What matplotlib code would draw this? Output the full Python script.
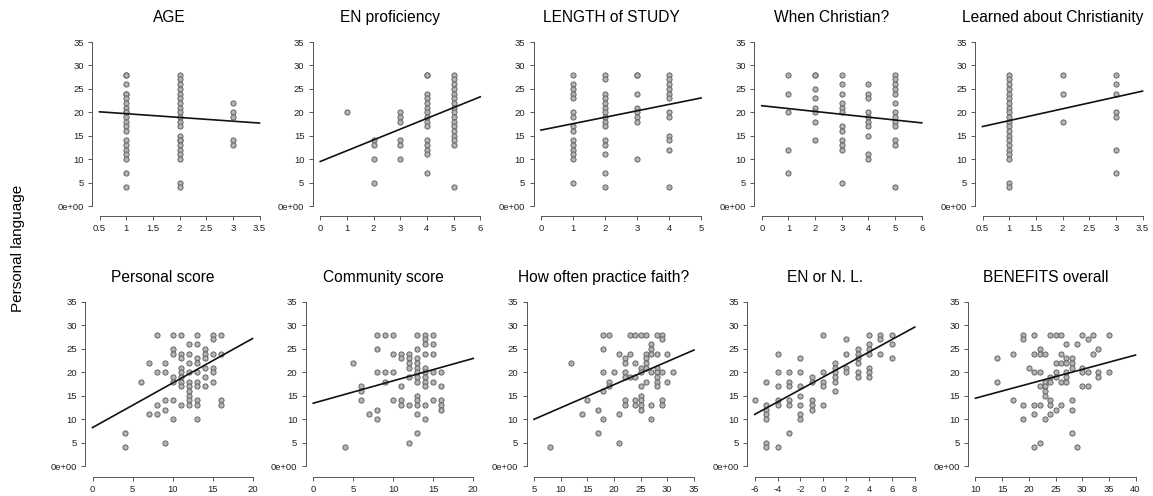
import matplotlib
matplotlib.use("Agg")
import matplotlib.pyplot as plt
import numpy as np

plt.rcParams['font.family'] = ['Liberation Sans', 'DejaVu Sans']
plt.rcParams['axes.unicode_minus'] = False

titles = ["AGE", "EN proficiency", "LENGTH of STUDY", "When Christian?",
          "Learned about Christianity", "Personal score", "Community score",
          "How often practice faith?", "EN or N. L.", "BENEFITS overall"]

xticks = [
    [0.5, 1, 1.5, 2, 2.5, 3, 3.5],
    [0, 1, 2, 3, 4, 5, 6],
    [0, 1, 2, 3, 4, 5],
    [0, 1, 2, 3, 4, 5, 6],
    [0.5, 1, 1.5, 2, 2.5, 3, 3.5],
    [0, 5, 10, 15, 20],
    [0, 5, 10, 15, 20],
    [5, 10, 15, 20, 25, 30, 35],
    [-6, -4, -2, 0, 2, 4, 6, 8],
    [10, 15, 20, 25, 30, 35, 40],
]
yticks = [0, 5, 10, 15, 20, 25, 30, 35]

# fitted lines
intercepts = [20.5, 9.5, 16.2, 21.4, 15.7, 8.2, 13.4, 7.5, 19.0, 11.4]
slopes = [-0.8, 2.3, 1.37, -0.61, 2.52, 0.95, 0.478, 0.493, 1.331, 0.307]

# AGE
age_x = [1]*21 + [2]*21 + [3]*5
age_y = [28, 28, 26, 24, 24, 23, 22, 21, 20, 20, 19, 18, 17, 16, 14, 13, 12, 11, 10, 7, 4,
         28, 27, 26, 25, 24, 23, 22, 21, 20, 19, 18, 17, 15, 14, 14, 13, 12, 11, 10, 5, 4,
         22, 20, 19, 14, 13]

# EN proficiency
enp_x = [1] + [2]*4 + [3]*6 + [4]*15 + [5]*17
enp_y = [20,
         14, 13, 10, 5,
         20, 19, 18, 14, 13, 10,
         28, 28, 24, 23, 22, 21, 20, 19, 18, 17, 14, 13, 12, 11, 7,
         28, 27, 26, 25, 24, 23, 22, 21, 20, 19, 18, 17, 16, 15, 14, 13, 4]

# LENGTH of STUDY
len_x = [1]*15 + [2]*15 + [3]*8 + [4]*12
len_y = [28, 26, 25, 24, 23, 20, 19, 17, 16, 14, 13, 12, 11, 10, 5,
         28, 27, 24, 23, 22, 21, 20, 19, 18, 17, 14, 13, 11, 7, 4,
         28, 28, 24, 21, 20, 19, 18, 10,
         28, 27, 26, 25, 24, 23, 20, 19, 15, 14, 12, 4]

# When Christian?
whc_x = [1]*5 + [2]*8 + [3]*12 + [4]*10 + [5]*13
whc_y = [28, 24, 20, 12, 7,
         28, 28, 25, 23, 21, 20, 18, 14,
         28, 26, 24, 22, 21, 20, 17, 16, 14, 13, 12, 5,
         26, 24, 23, 20, 19, 18, 17, 15, 11, 10,
         28, 27, 26, 25, 24, 22, 20, 19, 18, 17, 14, 13, 4]

# Learned about Christianity
lac_x = [1]*21 + [2]*3 + [3]*7
lac_y = [28, 27, 26, 25, 24, 23, 22, 21, 20, 19, 18, 17, 16, 15, 14, 13, 12, 11, 10, 5, 4,
         28, 24, 18,
         28, 26, 24, 20, 19, 12, 7]

# Personal score
per_x = [4, 4, 6, 7, 7, 8, 8, 8, 8, 9, 9, 9, 9, 9,
         10, 10, 10, 10, 10, 10, 10, 11, 11, 11, 11, 11, 11, 11, 11, 11,
         12, 12, 12, 12, 12, 12, 12, 12, 12, 12, 13, 13, 13, 13, 13, 13, 13, 13, 13, 13,
         14, 14, 14, 14, 14, 14, 15, 15, 15, 15, 15, 15, 16, 16, 16, 16]
per_y = [7, 4, 18, 22, 11, 28, 20, 13, 11, 22, 20, 14, 12, 5,
         28, 25, 24, 19, 18, 14, 10, 28, 24, 23, 21, 20, 19, 18, 17, 13,
         26, 24, 22, 20, 18, 17, 16, 15, 14, 13, 28, 26, 23, 22, 20, 18, 17, 14, 13, 10,
         25, 24, 23, 21, 19, 17, 28, 27, 24, 21, 20, 18, 28, 24, 14, 13]

# Community score
com_x = [4, 5, 6, 6, 6, 7, 8, 8, 8, 8, 8, 9, 9, 9, 10, 10, 10, 10,
         11, 11, 11, 11, 11, 12, 12, 12, 12, 12, 12, 12,
         13, 13, 13, 13, 13, 13, 13, 13, 13, 13, 13, 13, 13,
         14, 14, 14, 14, 14, 14, 14, 14, 14, 14, 14,
         15, 15, 15, 15, 15, 15, 16, 16, 16, 16, 16]
com_y = [4, 22, 17, 16, 14, 11, 28, 25, 20, 12, 10, 28, 20, 18, 28, 24, 20, 14,
         24, 23, 17, 14, 13, 24, 23, 22, 21, 19, 13, 5,
         28, 25, 23, 22, 21, 20, 19, 18, 15, 14, 13, 11, 7,
         28, 27, 26, 24, 21, 20, 19, 18, 17, 13, 10,
         28, 26, 24, 20, 18, 14, 20, 17, 14, 13, 12]

# How often practice faith?
hof_x = [8, 12, 14, 15, 17, 17, 18, 18, 18, 18, 18, 19, 19, 19, 20, 21, 21, 21,
         22, 22, 22, 22, 22, 22, 23, 23, 23, 24, 24, 24, 24, 24,
         25, 25, 25, 25, 25, 25, 25, 25, 26, 26, 26, 26, 26, 26,
         27, 27, 27, 27, 27, 27, 28, 28, 28, 28, 28, 28, 28,
         29, 29, 29, 29, 29, 30, 30, 31]
hof_y = [4, 22, 11, 14, 12, 7, 28, 25, 20, 16, 10, 28, 18, 17, 20, 24, 11, 5,
         23, 22, 20, 19, 14, 13, 28, 24, 19, 28, 22, 19, 14, 13,
         28, 21, 20, 17, 15, 14, 13, 12, 28, 24, 23, 22, 21, 18,
         26, 25, 24, 20, 13, 10, 28, 24, 21, 20, 19, 18, 17,
         28, 27, 20, 14, 13, 24, 18, 20]

# EN or N. L.
enl_x = [-6, -5, -5, -5, -5, -5, -5, -5, -4, -4, -4, -4, -4, -4,
         -3, -3, -3, -3, -3, -3, -2, -2, -2, -2, -2, -2, -2,
         -1, -1, -1, -1, -1, 0, 0, 0, 0, 0, 1, 1, 1, 1, 1, 1,
         2, 2, 2, 2, 3, 3, 3, 3, 3, 3, 4, 4, 4, 4, 4, 4, 4,
         5, 5, 5, 6, 6, 6]
enl_y = [14, 18, 13, 12, 11, 10, 5, 4, 24, 20, 17, 14, 13, 4,
         20, 18, 17, 14, 13, 7, 23, 20, 17, 15, 13, 11, 10,
         19, 18, 14, 13, 12, 28, 20, 18, 17, 13, 22, 21, 20, 19, 18, 16,
         27, 24, 21, 20, 25, 24, 23, 22, 20, 19, 28, 26, 25, 24, 21, 20, 19,
         28, 27, 24, 28, 26, 23]

# BENEFITS overall
ben_x = [14, 14, 17, 17, 19, 19, 19, 19, 20, 21, 21, 21, 21, 21, 21,
         22, 22, 22, 22, 22, 22, 23, 23, 23, 23, 23, 23, 24, 24, 24, 24, 24, 24,
         25, 25, 25, 25, 25, 26, 26, 26, 26, 26, 27, 27, 27, 27, 27, 27,
         28, 28, 28, 28, 28, 28, 29, 29, 30, 30, 30, 30, 31, 31, 31,
         32, 32, 33, 33, 33, 35, 35]
ben_y = [23, 18, 24, 14, 28, 27, 13, 10, 21, 28, 24, 20, 13, 11, 4,
         25, 24, 20, 17, 13, 5, 24, 18, 17, 16, 15, 10, 28, 19, 18, 14, 13, 11,
         28, 22, 20, 19, 12, 28, 24, 22, 18, 13, 26, 23, 22, 20, 19, 18,
         23, 22, 21, 14, 12, 7, 26, 4, 28, 21, 20, 17, 27, 20, 17,
         28, 24, 25, 20, 19, 28, 20]

xs = [age_x, enp_x, len_x, whc_x, lac_x, per_x, com_x, hof_x, enl_x, ben_x]
ys = [age_y, enp_y, len_y, whc_y, lac_y, per_y, com_y, hof_y, enl_y, ben_y]

W, H = 1153, 496
fig = plt.figure(figsize=(W / 100, H / 100), dpi=100)

axis_col = "#555555"
for i in range(10):
    row, col = divmod(i, 5)
    if row == 0:
        left_px = 92 + 220.75 * col
        top_px, bot_px = 32, 216
        ypad = 10 / 164 * 35
        title_y = 22
    else:
        left_px = 85 + 220.75 * col
        top_px, bot_px = 291, 477
        ypad = 11 / 164 * 35
        title_y = 282
    width_px = 175
    ax = fig.add_axes([left_px / W, 1 - bot_px / H, width_px / W, (bot_px - top_px) / H])

    xt = xticks[i]
    span = xt[-1] - xt[0]
    xpad = span * 7.5 / 160
    ax.set_xlim(xt[0] - xpad, xt[-1] + xpad)
    ax.set_ylim(-ypad, 35 + ypad)

    ax.scatter(xs[i], ys[i], s=14, facecolor="#b4b4b4", edgecolor="#5e5e5e",
               linewidth=0.65, zorder=3)
    lx = np.array([xt[0], xt[-1]])
    ax.plot(lx, intercepts[i] + slopes[i] * lx, color="#111111", lw=1.2, zorder=4)

    for s in ["top", "right"]:
        ax.spines[s].set_visible(False)
    ax.spines["left"].set_bounds(0, 35)
    ax.spines["bottom"].set_bounds(xt[0], xt[-1])
    for s in ["left", "bottom"]:
        ax.spines[s].set_color(axis_col)
        ax.spines[s].set_linewidth(0.7)

    ax.set_xticks(xt)
    ax.set_xticklabels([f"{v:g}" for v in xt])
    ax.set_yticks(yticks)
    ax.set_yticklabels(["0e+00"] + [str(v) for v in yticks[1:]])
    ax.tick_params(labelsize=6.8, length=3, width=0.7, color=axis_col, pad=3,
                   labelcolor="#222222")

    cx = left_px + width_px / 2 - 10
    fig.text(cx / W, 1 - title_y / H, titles[i], ha="center", va="baseline", fontsize=11.2)

fig.text(18 / W, 0.5, "Personal language", rotation=90, ha="center", va="center", fontsize=11)

fig.savefig("out.png", dpi=100)
